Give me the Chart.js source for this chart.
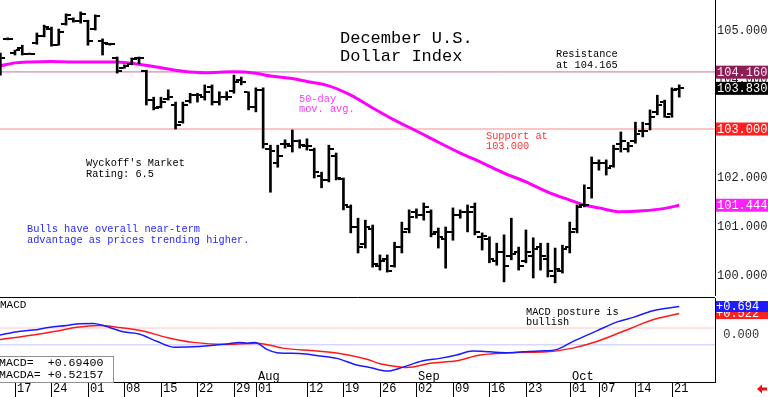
<!DOCTYPE html>
<html><head><meta charset="utf-8">
<script src="https://cdn.jsdelivr.net/npm/chart.js@4.4.1/dist/chart.umd.min.js"></script>
<style>
html,body{margin:0;padding:0;background:#fff;overflow:hidden}
#wrap{position:relative;width:768px;height:397px;background:#fff}
#c1{position:absolute;left:0;top:0}
#c2{position:absolute;left:0;top:296px}
</style></head><body>
<div id="wrap">
<canvas id="c1" width="768" height="296"></canvas>
<canvas id="c2" width="768" height="101"></canvas>
</div>
<script>
// ---------- DATA ----------
const FIRST_IDX = -2;   // trading-day index of first bar (Jun 13); index 0 = Jun 17
const HIGH = [
 104.55,104.86,104.61,104.71,104.55,104.96,105.12,105.08,105.04,105.35,
 105.27,105.39,105.22,105.33,104.84,104.75,104.47,104.31,104.45,104.47,
 104.20,103.65,103.65,103.80,103.55,103.55,103.73,103.73,103.90,103.90,
 103.76,103.76,104.10,104.06,103.76,103.84,103.84,102.67,102.67,102.78,
 102.98,102.78,102.80,102.61,102.12,102.67,102.51,102.00,101.45,101.18,
 101.14,101.04,100.43,100.43,100.69,101.10,101.35,101.37,101.49,101.35,
 100.98,101.00,101.39,101.35,101.45,101.49,100.88,100.80,100.67,100.84,
 101.18,100.59,100.94,100.78,100.67,100.67,100.57,100.63,101.10,101.45,
 101.86,102.43,102.37,102.37,102.67,102.94,102.73,103.14,103.14,103.39,
 103.69,103.59,103.84,103.90];
const LOW = [
 104.10,104.82,104.51,104.51,104.52,104.73,104.88,104.69,104.71,105.12,
 105.18,105.16,104.71,105.02,104.51,104.71,104.14,104.24,104.31,104.33,
 103.49,103.39,103.43,103.59,103.00,103.12,103.53,103.55,103.59,103.49,
 103.49,103.59,103.73,103.90,103.39,103.35,102.61,101.71,102.22,102.61,
 102.53,102.61,102.57,102.00,101.80,101.92,101.96,101.35,100.88,100.47,
 100.57,100.18,100.12,100.08,100.18,100.47,100.88,101.18,101.14,100.80,
 100.57,100.16,100.73,101.18,100.90,100.84,100.53,100.27,100.22,99.88,
 100.33,100.12,100.27,99.96,100.12,99.98,99.86,100.06,100.47,100.88,
 101.41,101.59,102.16,102.06,102.22,102.53,102.53,102.71,102.84,102.98,
 103.29,103.24,103.24,103.65];
const OPEN = [
 104.20,104.84,104.55,104.65,104.53,104.76,104.90,105.05,104.72,105.15,
 105.25,105.20,105.20,105.05,104.80,104.73,104.45,104.25,104.33,104.45,
 104.18,103.60,103.45,103.62,103.50,103.15,103.58,103.70,103.65,103.85,
 103.55,103.65,103.78,104.00,103.75,103.45,103.80,102.60,102.30,102.70,
 102.65,102.75,102.65,102.58,102.05,101.95,102.45,101.98,101.40,101.00,
 100.65,100.95,100.20,100.35,100.20,100.60,100.95,101.30,101.25,101.30,
 100.90,100.75,100.90,101.25,101.30,101.40,100.80,100.75,100.30,100.50,
 100.40,100.50,100.30,100.40,100.60,100.35,100.00,100.10,100.60,100.95,
 101.45,101.80,102.30,102.30,102.25,102.70,102.60,102.75,102.95,103.10,
 103.35,103.55,103.30,103.82];
const CLOSE = [
 104.45,104.84,104.61,104.53,104.53,104.90,105.08,104.72,104.98,105.33,
 105.20,105.35,104.80,105.30,104.75,104.73,104.18,104.28,104.43,104.45,
 103.60,103.42,103.55,103.65,103.08,103.50,103.70,103.70,103.75,103.55,
 103.65,103.65,103.95,103.95,103.45,103.80,102.70,102.55,102.45,102.70,
 102.75,102.68,102.65,102.12,101.95,102.60,102.00,101.45,101.00,100.60,
 101.00,100.25,100.30,100.10,100.60,100.90,101.20,101.25,101.40,100.85,
 100.80,100.90,101.25,101.30,101.30,100.90,100.82,100.35,100.50,100.20,
 100.45,100.20,100.50,100.55,100.40,100.10,100.15,100.55,100.90,101.40,
 101.45,102.30,102.30,102.20,102.60,102.75,102.65,102.90,102.95,103.25,
 103.50,103.25,103.80,103.83];
const DAYS = HIGH.map((_, k) => FIRST_IDX + k);

const MA_IDX = [-2,0,2,5,8,11,14,17,20,23,26,30,33,35,38,40,43,46,49,52,55,58,61,64,67,70,73,76,78,80,83,86,89,91];
const MA_VAL = [104.29,104.35,104.37,104.38,104.37,104.37,104.37,104.32,104.25,104.18,104.15,104.17,104.14,104.08,104.03,103.97,103.88,103.69,103.43,103.18,102.96,102.73,102.51,102.31,102.10,101.92,101.71,101.55,101.45,101.39,101.31,101.33,101.38,101.444];

const MACD_IDX = [-2.05,0.3,2.5,4.8,7.1,8.5,10.7,12.1,14.8,17.1,19.5,21.9,25.3,29.0,30.8,31.8,32.9,34.5,35.9,39.0,41.8,44.1,46.8,48.6,51.0,52.7,55.9,58.2,60.5,62.7,65.1,67.4,69.6,71.9,74.3,76.4,79.7,82.5,84.7,87.4,91];
const MACD_VAL = [0.00,0.08,0.12,0.19,0.23,0.27,0.28,0.23,0.08,0.02,-0.16,-0.30,-0.28,-0.22,-0.18,-0.20,-0.18,-0.35,-0.43,-0.45,-0.51,-0.57,-0.73,-0.79,-0.88,-0.81,-0.63,-0.57,-0.49,-0.39,-0.41,-0.43,-0.41,-0.39,-0.35,-0.16,0.10,0.32,0.43,0.59,0.694];
const SIG_IDX = [-2.05,2.5,5.8,8.5,11.6,14.4,17.5,20.8,24.4,29.0,33.2,36.7,41.4,44.5,48.2,50.0,52.0,53.7,56.9,60.5,63.7,68.2,72.9,76.4,79.7,84.3,87.4,91];
const SIG_VAL = [-0.11,0.00,0.10,0.19,0.23,0.18,0.10,-0.06,-0.18,-0.23,-0.20,-0.32,-0.39,-0.45,-0.59,-0.70,-0.76,-0.79,-0.69,-0.63,-0.49,-0.43,-0.41,-0.32,-0.16,0.16,0.37,0.522];

const RESISTANCE = 104.165, SUPPORT = 103.000;
const MACD_UPPER = 0.17, MACD_LOWER = -0.24;
const PRICE_TICKS = [100, 101, 102, 103, 104, 105];
const PRICE_BOXES = [
 {v:104.160, bg:'#8c1d55', fg:'#ffe8f4'},
 {v:103.830, bg:'#000000', fg:'#ffffff'},
 {v:103.000, bg:'#ff2020', fg:'#ffffff'},
 {v:101.444, bg:'#ff20ff', fg:'#ffffff'}];
const MACD_BOXES = [
 {v:0.522, label:'+0.522', bg:'#ff2020', fg:'#ffffff'},
 {v:0.694, label:'+0.694', bg:'#1c1cff', fg:'#ffffff'}];
const DATE_TICK_IDX = [0,5,10,15,20,25,30,33,40,45,50,55,60,65,70,76,80,85,90];
const DATE_TICK_LABELS = ['17','24','01','08','15','22','29','01','12','19','26','02','09','16','23','01','07','14','21'];
const MONTH_IDX = [33, 55, 76];
const MONTH_LABELS = ['Aug', 'Sep', 'Oct'];

const X_MIN = -2.05, X_MAX = 95.9;
const P_MIN = 99.592, P_MAX = 105.633;
const M_MIN = -1.146, M_MAX = 0.902;

// ---------- helpers ----------
const MONO = '"Liberation Mono", "DejaVu Sans Mono", monospace';
function tickImg(left) {
  const c = document.createElement('canvas'); c.width = 10; c.height = 2;
  const g = c.getContext('2d'); g.fillStyle = '#000'; g.fillRect(left ? 0 : 6, 0, 4, 2);
  return c;
}
function text(ctx, s, x, y, size, color, base) {
  ctx.save(); ctx.font = size + 'px ' + MONO; ctx.fillStyle = color;
  ctx.textAlign = 'left'; ctx.textBaseline = base || 'alphabetic';
  ctx.fillText(s, x, y); ctx.restore();
}
function block(ctx, n) {
  n.lines.forEach((l, k) => text(ctx, l, n.x, n.y + k * n.lh, n.size, n.color));
}
const NOTES1 = [
 {lines:['December U.S.','Dollar Index'], x:340, y:43, lh:17.5, size:17, color:'#000'},
 {lines:['Resistance','at 104.165'], x:556, y:57, lh:10.5, size:10.3, color:'#000'},
 {lines:['50-day','mov. avg.'], x:299, y:102, lh:10, size:10.3, color:'#ff3cff'},
 {lines:['Support at','103.000'], x:486, y:139, lh:10, size:10.3, color:'#ff3333'},
 {lines:["Wyckoff's Market",'Rating: 6.5'], x:86, y:165.5, lh:11, size:10.3, color:'#000'},
 {lines:['Bulls have overall near-term','advantage as prices trending higher.'], x:27, y:232, lh:10.5, size:10.3, color:'#2828ff'}];
const NOTES2 = [
 {lines:['MACD'], x:0, y:12, lh:10, size:11, color:'#000'},
 {lines:['MACD posture is','bullish'], x:526, y:19, lh:10, size:10.3, color:'#000'}];

const overlay1 = {
  id: 'overlay1',
  afterDraw(chart) {
    const ctx = chart.ctx, y = chart.scales.y, L = chart.chartArea.right;
    PRICE_TICKS.forEach(v => text(ctx, v.toFixed(3), L + 2, y.getPixelForValue(v), 12, '#222', 'middle'));
    PRICE_BOXES.forEach(b => {
      const py = y.getPixelForValue(b.v);
      ctx.fillStyle = b.bg; ctx.fillRect(L + 1, py - 6.5, 53, 13);
      text(ctx, b.v.toFixed(3), L + 2, py + 0.5, 12, b.fg, 'middle');
    });
    NOTES1.forEach(n => block(ctx, n));
  }
};
const overlay2 = {
  id: 'overlay2',
  afterDraw(chart) {
    const ctx = chart.ctx, x = chart.scales.x, y = chart.scales.y, a = chart.chartArea;
    ctx.save();
    ctx.strokeStyle = '#000'; ctx.lineWidth = 1;
    ctx.beginPath();
    ctx.moveTo(0, a.top - 0.5); ctx.lineTo(a.right, a.top - 0.5);
    ctx.moveTo(0, a.bottom + 0.5); ctx.lineTo(a.right, a.bottom + 0.5);
    DATE_TICK_IDX.forEach(i => {
      const px = Math.round(x.getPixelForValue(i)) + 0.5;
      ctx.moveTo(px, a.bottom); ctx.lineTo(px, chart.height);
    });
    ctx.stroke();
    ctx.restore();
    DATE_TICK_IDX.forEach((i, k) => text(ctx, DATE_TICK_LABELS[k], Math.round(x.getPixelForValue(i)) + 2, a.bottom + 10, 12, '#000'));
    MONTH_IDX.forEach((i, k) => text(ctx, MONTH_LABELS[k], Math.round(x.getPixelForValue(i)) + 2, a.bottom - 2, 12, '#000'));
    text(ctx, ' ' + (0).toFixed(3), a.right + 1, y.getPixelForValue(0), 12, '#333', 'middle');
    MACD_BOXES.forEach(b => {
      const py = y.getPixelForValue(b.v);
      ctx.fillStyle = b.bg; ctx.fillRect(a.right + 1, py - 5.5, 53, 11);
      text(ctx, b.label, a.right + 1, py + 0.5, 12, b.fg, 'middle');
    });
    NOTES2.forEach(n => block(ctx, n));
    // value box
    ctx.save();
    ctx.fillStyle = '#fff'; ctx.fillRect(0, a.bottom - 26, 114, 26);
    ctx.strokeStyle = '#909090'; ctx.lineWidth = 1;
    ctx.strokeRect(-0.5, a.bottom - 25.5, 114, 26);
    ctx.restore();
    text(ctx, 'MACD=  +' + MACD_VAL[MACD_VAL.length - 1].toFixed(5), -1, a.bottom - 16, 11.6, '#000');
    text(ctx, 'MACDA= +0.52157', -1, a.bottom - 4.5, 11.6, '#000');
    // red arrow
    ctx.save(); ctx.fillStyle = '#ee1111';
    ctx.beginPath(); ctx.moveTo(757, 93); ctx.lineTo(762, 88.5); ctx.lineTo(762, 97.5); ctx.closePath(); ctx.fill();
    ctx.fillRect(761, 91.5, 6, 3);
    ctx.restore();
  }
};

const fixWidth = s => { s.width = 53; };
const baseOpts = (ymin, ymax, pad) => ({
  responsive: false, animation: false, events: [],
  layout: { padding: pad, autoPadding: false },
  plugins: { legend: { display: false }, tooltip: { enabled: false } },
  scales: {
    x: { type: 'linear', min: X_MIN, max: X_MAX, display: false, offset: false },
    y: { position: 'right', min: ymin, max: ymax, ticks: { display: false },
         grid: { display: false }, border: { display: true, color: '#000', width: 1 },
         afterFit: fixWidth }
  }
});

Chart.defaults.font.family = MONO;

new Chart(document.getElementById('c1'), {
  type: 'bar',
  data: { datasets: [
    { type: 'bar', data: DAYS.map((d, k) => ({ x: d, y: [LOW[k], HIGH[k]] })),
      backgroundColor: '#000', barThickness: 2, grouped: false },
    { type: 'scatter', data: DAYS.map((d, k) => ({ x: d, y: OPEN[k] })),
      pointStyle: tickImg(true), pointRadius: 3 },
    { type: 'scatter', data: DAYS.map((d, k) => ({ x: d, y: CLOSE[k] })),
      pointStyle: tickImg(false), pointRadius: 3 },
    { type: 'line', data: MA_IDX.map((d, k) => ({ x: d, y: MA_VAL[k] })),
      borderColor: '#ff00ff', borderWidth: 3, pointRadius: 0, tension: 0.4, cubicInterpolationMode: 'monotone' },
    { type: 'line', data: [{ x: X_MIN, y: RESISTANCE }, { x: X_MAX, y: RESISTANCE }],
      borderColor: '#c6709c', borderWidth: 1, pointRadius: 0 },
    { type: 'line', data: [{ x: X_MIN, y: SUPPORT }, { x: X_MAX, y: SUPPORT }],
      borderColor: '#ff8a8a', borderWidth: 1, pointRadius: 0 }
  ]},
  options: baseOpts(P_MIN, P_MAX, 0),
  plugins: [overlay1]
});

new Chart(document.getElementById('c2'), {
  type: 'line',
  data: { datasets: [
    { data: MACD_IDX.map((d, k) => ({ x: d, y: MACD_VAL[k] })),
      borderColor: '#1a1aff', borderWidth: 1.5, pointRadius: 0, tension: 0.35, cubicInterpolationMode: 'monotone' },
    { data: SIG_IDX.map((d, k) => ({ x: d, y: SIG_VAL[k] })),
      borderColor: '#ff1a1a', borderWidth: 1.5, pointRadius: 0, tension: 0.35, cubicInterpolationMode: 'monotone' },
    { data: [{ x: X_MIN, y: MACD_UPPER }, { x: X_MAX, y: MACD_UPPER }],
      borderColor: '#ffc4c4', borderWidth: 1, pointRadius: 0 },
    { data: [{ x: X_MIN, y: MACD_LOWER }, { x: X_MAX, y: MACD_LOWER }],
      borderColor: '#c4c4ff', borderWidth: 1, pointRadius: 0 }
  ]},
  options: baseOpts(M_MIN, M_MAX, { top: 2, bottom: 15, left: 0, right: 0 }),
  plugins: [overlay2]
});
</script>
</body></html>
